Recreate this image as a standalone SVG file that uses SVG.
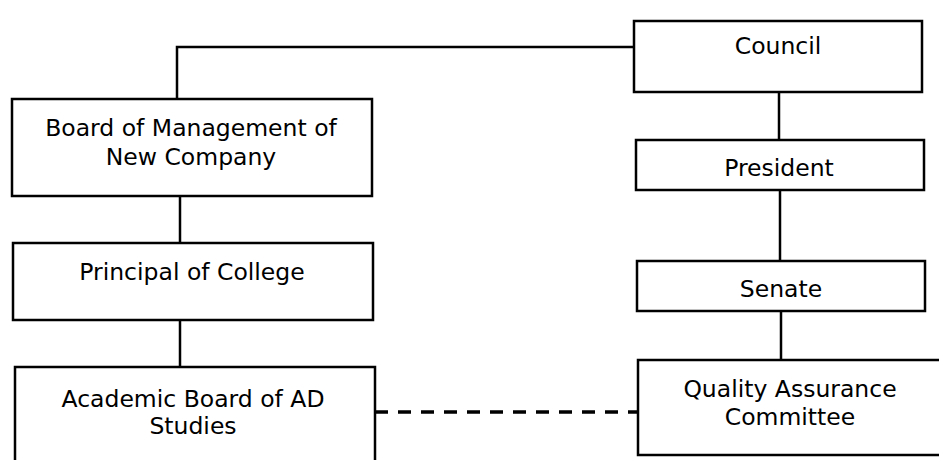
<svg xmlns="http://www.w3.org/2000/svg" width="939" height="460" viewBox="0 0 939 460">
<style>
.box{fill:#fff;stroke:#000;stroke-width:2.5}
.lbl{font-family:"DejaVu Sans","Verdana",sans-serif;font-size:23.5px;fill:#000;text-anchor:middle}
.conn{fill:none;stroke:#000;stroke-width:2.5}
.dash{fill:none;stroke:#000;stroke-width:3.5;stroke-dasharray:13 10}
</style>
<rect width="939" height="460" fill="#fff"/>
<g id="connectors">
<path class="conn" d="M634,47 H177 V99"/>
<path class="conn" d="M779,92 V140"/>
<path class="conn" d="M780,190 V261"/>
<path class="conn" d="M781,311 V360"/>
<path class="conn" d="M180,196 V243"/>
<path class="conn" d="M180,320 V367"/>
<path class="dash" d="M375,412 H638"/>
</g>
<g id="council">
<rect class="box" x="634" y="21" width="288" height="71"/>
<text class="lbl" x="778" y="54">Council</text>
</g>
<g id="president">
<rect class="box" x="636" y="140" width="288" height="50"/>
<text class="lbl" x="779" y="176">President</text>
</g>
<g id="senate">
<rect class="box" x="637" y="261" width="288" height="50"/>
<text class="lbl" x="781" y="297">Senate</text>
</g>
<g id="qac">
<rect class="box" x="638" y="360" width="320" height="95"/>
<text class="lbl" x="790" y="397">Quality Assurance</text>
<text class="lbl" x="790" y="425">Committee</text>
</g>
<g id="board">
<rect class="box" x="12" y="99" width="360" height="97"/>
<text class="lbl" x="191" y="136">Board of Management of</text>
<text class="lbl" x="191" y="165">New Company</text>
</g>
<g id="principal">
<rect class="box" x="13" y="243" width="360" height="77"/>
<text class="lbl" x="192" y="280">Principal of College</text>
</g>
<g id="academic">
<rect class="box" x="15" y="367" width="360" height="120"/>
<text class="lbl" x="193" y="407">Academic Board of AD</text>
<text class="lbl" x="193" y="434">Studies</text>
</g>
</svg>
